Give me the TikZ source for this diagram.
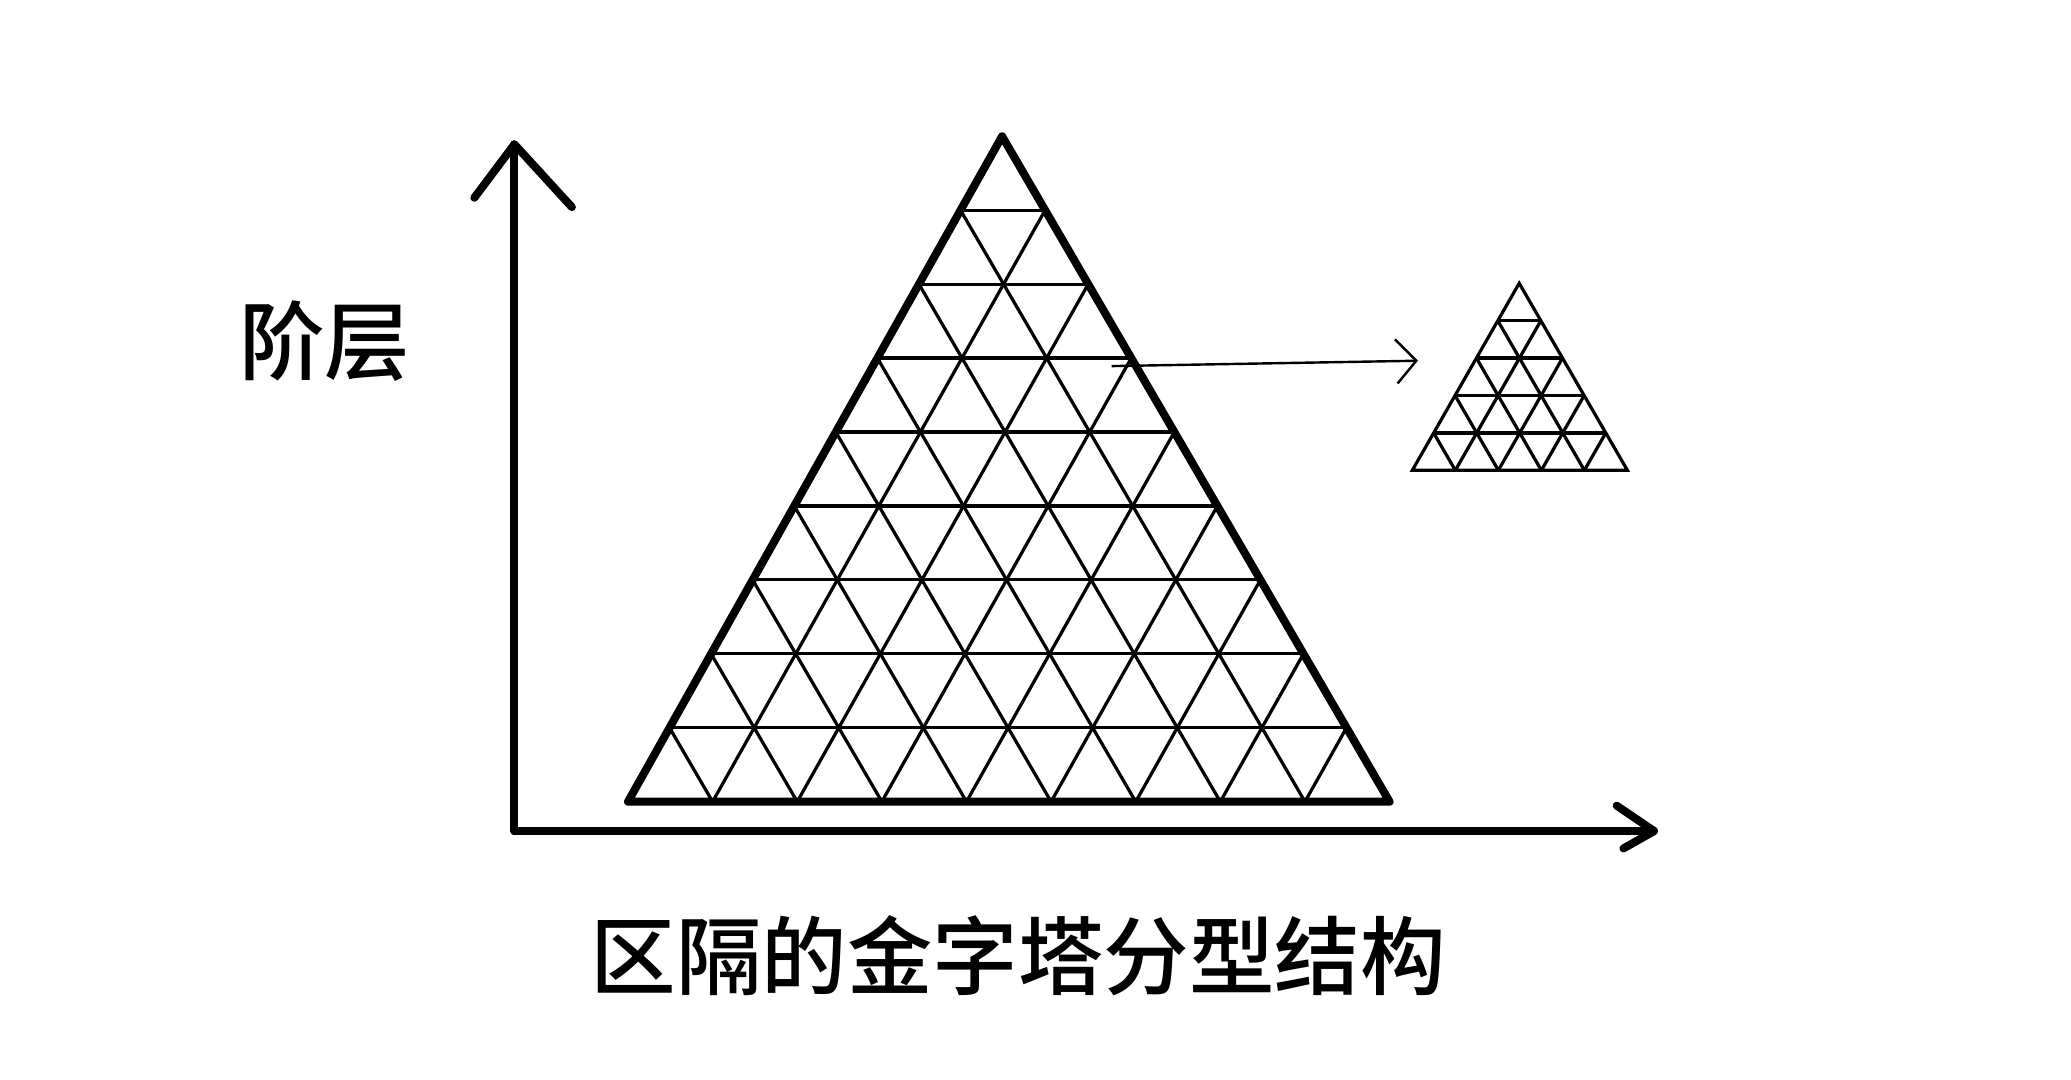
\documentclass[tikz,border=0pt]{standalone}
\usepackage{fontspec}
\newfontfamily\cjk{Noto Sans CJK SC Medium}
\usetikzlibrary{calc,arrows.meta}
\begin{document}
\begin{tikzpicture}[x=1pt,y=-1pt,
  thick line/.style={line width=6pt,line cap=round,line join=round},
  grid line/.style={line width=2.4pt},
  axis/.style={line width=6pt,line cap=round,line join=round}]
\useasboundingbox (0,0) rectangle (1550,808);
% axes
\coordinate (O) at (385,622);
\coordinate (Ytop) at (385,108);
\coordinate (Xend) at (1238,622);
\draw[axis] (O) -- (Ytop);
\draw[axis] (355,148) -- (Ytop) -- (428,155);
\draw[axis] (O) -- (Xend);
\draw[axis] (1210,603) -- (Xend) -- (1215,635);
% big pyramid
\coordinate (A) at (750,102);
\coordinate (L) at (470,600);
\coordinate (R) at (1040,600);
\foreach \i in {1,...,8}{
  \draw[grid line] ($(A)!\i/9!(L)$) -- ($(A)!\i/9!(R)$);
  \draw[grid line] ($(L)!\i/9!(R)$) -- ($(A)!\i/9!(R)$);
  \draw[grid line] ($(L)!\i/9!(R)$) -- ($(L)!\i/9!(A)$);
}
\draw[thick line] (A) -- (L) -- (R) -- cycle;
% small pyramid
\coordinate (a) at (1137,212);
\coordinate (l) at (1057,352);
\coordinate (r) at (1218,352);
\foreach \i in {1,...,4}{
  \draw[grid line] ($(a)!\i/5!(l)$) -- ($(a)!\i/5!(r)$);
  \draw[grid line] ($(l)!\i/5!(r)$) -- ($(a)!\i/5!(r)$);
  \draw[grid line] ($(l)!\i/5!(r)$) -- ($(l)!\i/5!(a)$);
}
\draw[grid line] (a) -- (l) -- (r) -- cycle;
% arrow
\coordinate (s) at (832,274);
\coordinate (e) at (1060,270);
\draw[line width=1.8pt] (s) -- (e);
\draw[line width=1.8pt] (1044,254) -- (e) -- (1046,287);
% labels
\node[font=\cjk\fontsize{64}{72}\selectfont] (ylab) at (243,255) {阶层};
\node[font=\cjk\fontsize{64}{72}\selectfont] (title) at (762,715) {区隔的金字塔分型结构};
\end{tikzpicture}
\end{document}
